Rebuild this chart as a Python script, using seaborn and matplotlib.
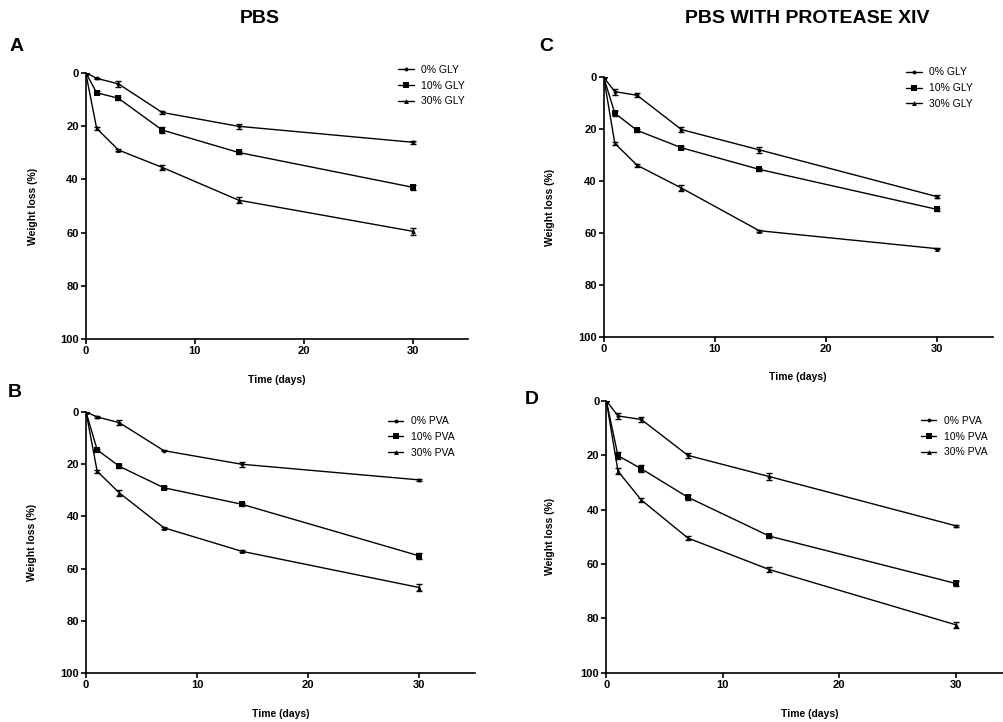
import pandas as pd
import seaborn as sns
import matplotlib.pyplot as plt

days = [0, 1, 3, 7, 14, 30]

# panel A - PBS, glycerol
a_labels = ["0% GLY", "10% GLY", "30% GLY"]
a_vals = [[0, 2.1, 4.2, 14.9, 20.1, 26.1],
          [0, 7.5, 9.6, 21.5, 29.9, 43.0],
          [0, 20.9, 29.0, 35.5, 47.8, 59.5]]
a_err = [[0, 0.3, 1.2, 0.5, 1.0, 0.5],
         [0, 0.5, 0.5, 1.0, 0.5, 1.0],
         [0, 0.5, 0.5, 1.0, 1.2, 1.2]]

# panel B - PBS, PVA
b_labels = ["0% PVA", "10% PVA", "30% PVA"]
b_vals = [[0, 1.9, 4.1, 14.8, 20.0, 26.0],
          [0, 14.5, 20.8, 29.0, 35.3, 55.1],
          [0, 22.7, 31.0, 44.3, 53.3, 67.2]]
b_err = [[0, 0.3, 1.0, 0.3, 1.0, 0.3],
         [0, 0.5, 0.5, 0.5, 0.5, 1.2],
         [0, 0.5, 1.0, 0.3, 0.3, 1.3]]

# panel C - PBS with protease XIV, glycerol
c_labels = ["0% GLY", "10% GLY", "30% GLY"]
c_vals = [[0, 5.5, 6.9, 20.1, 27.9, 45.9],
          [0, 13.8, 20.4, 27.1, 35.4, 50.8],
          [0, 25.4, 33.8, 42.6, 59.0, 65.9]]
c_err = [[0, 1.2, 0.7, 1.0, 1.2, 0.5],
         [0, 1.0, 0.5, 0.5, 0.5, 0.5],
         [0, 0.5, 0.5, 1.3, 0.3, 0.3]]

# panel D - PBS with protease XIV, PVA
d_labels = ["0% PVA", "10% PVA", "30% PVA"]
d_vals = [[0, 5.6, 6.9, 20.1, 27.9, 46.0],
          [0, 20.2, 25.0, 35.5, 49.8, 67.2],
          [0, 25.9, 36.5, 50.5, 62.1, 82.4]]
d_err = [[0, 1.0, 0.8, 0.8, 1.2, 0.3],
         [0, 1.2, 1.2, 1.0, 0.5, 0.8],
         [0, 1.0, 0.8, 0.8, 0.8, 1.0]]

markers = ["o", "s", "^"]
msizes = [2.8, 4.3, 3.5]

sns.set_style("ticks")
plt.rcParams["font.family"] = ["Liberation Sans", "DejaVu Sans"]
plt.rcParams["text.color"] = "black"
plt.rcParams["axes.labelcolor"] = "black"
plt.rcParams["xtick.color"] = "black"
plt.rcParams["ytick.color"] = "black"
plt.rcParams["axes.edgecolor"] = "black"

fig = plt.figure(figsize=(10.04, 7.22), dpi=100)

panels = [
    # rect, labels, vals, err, legend anchor
    ([0.0854, 0.530, 0.3804, 0.3693], a_labels, a_vals, a_err, (0.8176, 1.029)),
    ([0.0857, 0.0675, 0.3874, 0.3619], b_labels, b_vals, b_err, (0.776, 0.984)),
    ([0.6013, 0.5328, 0.3874, 0.3601], c_labels, c_vals, c_err, (0.777, 1.038)),
    ([0.6039, 0.0683, 0.4062, 0.3767], d_labels, d_vals, d_err, (0.771, 0.944)),
]

for rect, labels, vals, err, anchor in panels:
    ax = fig.add_axes(rect)
    handles = []
    for lab, v, e, m, ms in zip(labels, vals, err, markers, msizes):
        df = pd.DataFrame({"Time": days, "Loss": v})
        sns.lineplot(data=df, x="Time", y="Loss", marker=m, markersize=ms,
                     color="black", linewidth=1.0, markeredgewidth=0,
                     label=lab, ax=ax)
        handles.append(ax.lines[-1])
        ax.errorbar(days, v, yerr=e, fmt="none", ecolor="black",
                    elinewidth=1.0, capsize=2, capthick=1.0)
    ax.set_xlim(0, 35)
    ax.set_ylim(100, 0)
    ax.set_xticks([0, 10, 20, 30])
    ax.set_yticks([0, 20, 40, 60, 80, 100])
    for s in ["top", "right"]:
        ax.spines[s].set_visible(False)
    for s in ["left", "bottom"]:
        ax.spines[s].set_linewidth(1.2)
    ax.tick_params(length=3.5, width=1.2, labelsize=8, pad=1.5)
    for t in ax.get_xticklabels() + ax.get_yticklabels():
        t.set_fontweight("bold")
    ax.set_xlabel("Time (days)", fontsize=7.5, fontweight="bold")
    ax.set_ylabel("Weight loss (%)", fontsize=7.5, fontweight="bold")
    ax.xaxis.set_label_coords(0.5, -0.135)
    ax.yaxis.set_label_coords(-0.126, 0.5)
    ax.legend(handles, labels, loc="upper left",
              bbox_to_anchor=anchor, frameon=False, fontsize=7.5,
              handlelength=1.5, handletextpad=0.7, labelspacing=0.55,
              borderpad=0, borderaxespad=0)

fig.text(0.259, 0.975, "PBS", fontsize=14, fontweight="bold", ha="center", va="center")
fig.text(0.804, 0.975, "PBS WITH PROTEASE XIV", fontsize=14, fontweight="bold",
         ha="center", va="center")
fig.text(0.017, 0.935, "A", fontsize=14, fontweight="bold", ha="center", va="center")
fig.text(0.544, 0.935, "C", fontsize=14, fontweight="bold", ha="center", va="center")
fig.text(0.015, 0.456, "B", fontsize=14, fontweight="bold", ha="center", va="center")
fig.text(0.530, 0.446, "D", fontsize=14, fontweight="bold", ha="center", va="center")

fig.savefig("out.png", dpi=100)
